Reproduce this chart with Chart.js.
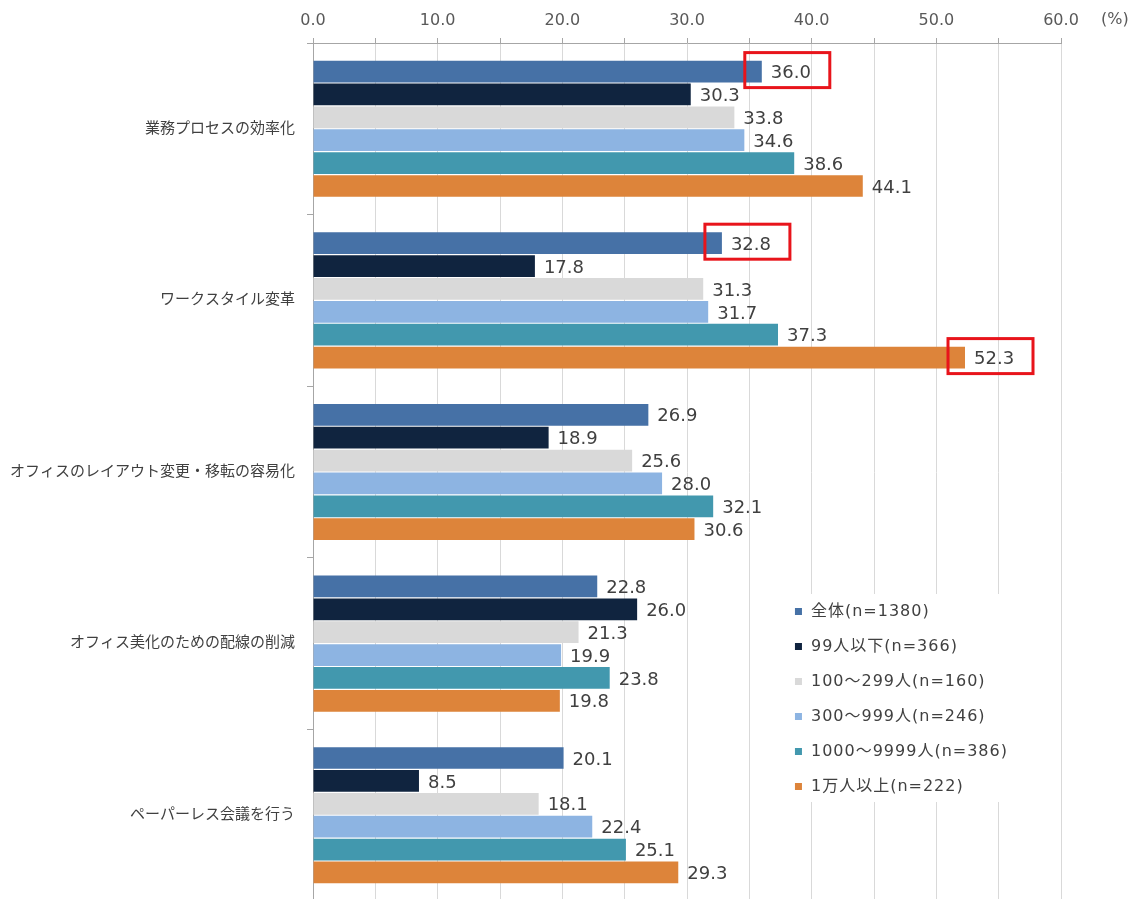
<!DOCTYPE html>
<html lang="ja">
<head>
<meta charset="UTF-8">
<script src="https://cdn.jsdelivr.net/npm/chart.js"></script>
<title>導入目的</title>
<style>
  html, body { margin: 0; padding: 0; background: #fff; overflow: hidden; }
  canvas { display: block; }
</style>
</head>
<body>
<canvas id="grafico" width="1136" height="901"></canvas>
<script>
const categorias = [
  '業務プロセスの効率化',
  'ワークスタイル変革',
  'オフィスのレイアウト変更・移転の容易化',
  'オフィス美化のための配線の削減',
  'ペーパーレス会議を行う'
];
const series = [
  '全体(n=1380)',
  '99人以下(n=366)',
  '100～299人(n=160)',
  '300～999人(n=246)',
  '1000～9999人(n=386)',
  '1万人以上(n=222)'
];
const zentai   = [36.0, 32.8, 26.9, 22.8, 20.1];
const ika99    = [30.3, 17.8, 18.9, 26.0, 8.5];
const s100_299 = [33.8, 31.3, 25.6, 21.3, 18.1];
const s300_999 = [34.6, 31.7, 28.0, 19.9, 22.4];
const s1000    = [38.6, 37.3, 32.1, 23.8, 25.1];
const man1     = [44.1, 52.3, 30.6, 19.8, 29.3];
const xTicks = [0, 10, 20, 30, 40, 50, 60];
// [serie, categoria] de los valores marcados en rojo
const marcados = [[0, 0], [0, 1], [5, 1]];

const colores = ['#4671a6', '#10243f', '#d9d9d9', '#8db4e2', '#4298ae', '#dd843a'];
const valores = [zentai, ika99, s100_299, s300_999, s1000, man1];
const FUENTE = '"DejaVu Sans", "Noto Sans CJK JP", sans-serif';

const etiquetas = {
  id: 'etiquetas',
  afterDatasetsDraw(chart) {
    const ctx = chart.ctx;
    ctx.save();
    ctx.font = '18px ' + FUENTE;
    ctx.fillStyle = '#404040';
    ctx.textAlign = 'left';
    ctx.textBaseline = 'middle';
    chart.data.datasets.forEach((ds, i) => {
      chart.getDatasetMeta(i).data.forEach((bar, j) => {
        ctx.fillText(ds.data[j].toFixed(1), bar.x + 9, bar.y + 2);
      });
    });
    // recuadros rojos
    ctx.strokeStyle = '#e8141b';
    ctx.lineWidth = 3;
    marcados.forEach(([i, j]) => {
      const bar = chart.getDatasetMeta(i).data[j];
      ctx.strokeRect(bar.x - 17, bar.y - 19, 85, 35);
    });
    // unidad
    ctx.font = '16px ' + FUENTE;
    ctx.fillStyle = '#595959';
    ctx.fillText('(%)', chart.chartArea.right + 40, 20);
    // leyenda
    const xs = chart.scales.x;
    const lx = xs.getPixelForValue(38.9);
    const ly = chart.chartArea.top + 569;
    ctx.fillStyle = '#ffffff';
    ctx.fillRect(lx - 14, ly - 18, 262, 208);
    ctx.font = '16px ' + FUENTE;
    ctx.letterSpacing = '1px';
    series.forEach((s, i) => {
      const y = ly + i * 35;
      ctx.fillStyle = colores[i];
      ctx.fillRect(lx - 3, y - 4, 7, 7);
      ctx.fillStyle = '#404040';
      ctx.fillText(s, lx + 13, y);
    });
    ctx.restore();
  }
};

new Chart(document.getElementById('grafico'), {
  type: 'bar',
  data: {
    labels: categorias,
    datasets: series.map((s, i) => ({
      label: s,
      data: valores[i],
      backgroundColor: colores[i],
      borderWidth: 0,
      categoryPercentage: 0.8,
      barPercentage: 0.95
    }))
  },
  options: {
    indexAxis: 'y',
    responsive: false,
    animation: false,
    devicePixelRatio: 1,
    layout: { padding: { top: 0, right: 75, bottom: 0, left: 0 } },
    plugins: { legend: { display: false }, tooltip: { enabled: false } },
    scales: {
      x: {
        position: 'top',
        min: 0,
        max: 60,
        afterFit(scale) { scale.height = 43; },
        ticks: {
          stepSize: 5,
          autoSkip: false,
          maxRotation: 0,
          padding: 8,
          color: '#595959',
          font: { size: 16, family: FUENTE },
          callback: v => xTicks.includes(v) ? v.toFixed(1) : ''
        },
        grid: { color: '#d9d9d9', tickColor: '#a6a6a6', tickLength: 5 },
        border: { color: '#a6a6a6' }
      },
      y: {
        afterFit(scale) {
          scale.width = 313;
          scale.paddingTop = 0;
          scale.paddingBottom = 0;
        },
        ticks: {
          padding: 12,
          color: '#404040',
          font: { size: 15, family: FUENTE }
        },
        grid: { offset: true, drawOnChartArea: false, tickLength: 6, tickColor: '#a6a6a6' },
        border: { color: '#a6a6a6' }
      }
    }
  },
  plugins: [etiquetas]
});
</script>
</body>
</html>
